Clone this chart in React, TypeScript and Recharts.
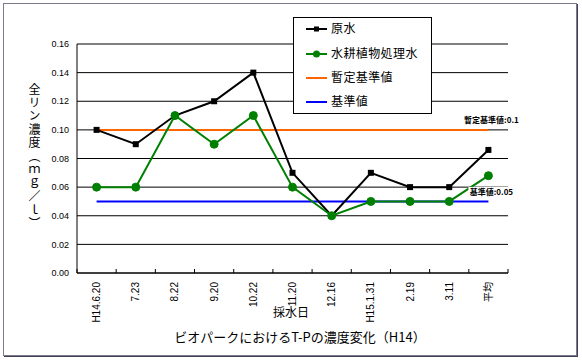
import React from 'react';
import { LineChart, Line, XAxis, YAxis, CartesianGrid, ReferenceLine, Legend, LabelList } from 'recharts';

const categories = ['H14.6.20', '7.23', '8.22', '9.20', '10.22', '11.20', '12.16', 'H15.1.31', '2.19', '3.11', '平均'];
const rawWater = [0.10, 0.09, 0.11, 0.12, 0.14, 0.07, 0.04, 0.07, 0.06, 0.06, 0.086];
const treatedWater = [0.06, 0.06, 0.11, 0.09, 0.11, 0.06, 0.04, 0.05, 0.05, 0.05, 0.068];
const provisionalStandard = [0.1, 0.1, 0.1, 0.1, 0.1, 0.1, 0.1, 0.1, 0.1, 0.1, 0.1];
const standardValue = [0.05, 0.05, 0.05, 0.05, 0.05, 0.05, 0.05, 0.05, 0.05, 0.05, 0.05];
const yTicks = [0, 0.02, 0.04, 0.06, 0.08, 0.1, 0.12, 0.14, 0.16];
const seriesNames = ['原水', '水耕植物処理水', '暫定基準値', '基準値'];
const provLabel = '暫定基準値:0.1';
const stdLabel = '基準値:0.05';
const chartTitle = 'ビオパークにおけるT-Pの濃度変化（H14）';
const xTitle = '採水日';
const yTitle = '全リン濃度（ｍｇ／ｌ）';

const data = categories.map((c, i) => ({
  cat: c,
  raw: rawWater[i],
  treated: treatedWater[i],
  prov: provisionalStandard[i],
  std: standardValue[i],
}));

const FONT = '"Liberation Sans", "Noto Sans CJK JP", sans-serif';
const JFONT = '"Noto Sans CJK JP", "Liberation Sans", sans-serif';
const COLORS = { raw: '#000000', treated: '#008000', prov: '#ff6600', std: '#0000ff' };

const XTick = (props: any) => {
  const { x, y, payload, index } = props;
  const half = payload && payload.offset ? payload.offset : 19.6;
  const ty = y + 9;
  return (
    <g>
      <line x1={x + half} x2={x + half} y1={y - 4} y2={y} stroke="#000" />
      {index === 0 && <line x1={x - half} x2={x - half} y1={y - 4} y2={y} stroke="#000" />}
      <text
        x={x}
        y={ty}
        transform={`rotate(-90, ${x}, ${ty})`}
        textAnchor="end"
        dy="0.35em"
        fontSize={10}
        fontFamily={FONT}
        fill="#000"
      >
        {payload.value}
      </text>
    </g>
  );
};

const SquareDot = (props: any) => {
  const { cx, cy } = props;
  if (cx == null || cy == null) return null;
  return <rect x={cx - 3} y={cy - 3} width={6} height={6} fill="#000" />;
};

const CircleDot = (props: any) => {
  const { cx, cy } = props;
  if (cx == null || cy == null) return null;
  return <circle cx={cx} cy={cy} r={4} fill={COLORS.treated} stroke={COLORS.treated} />;
};

const makeEndLabel = (text: string, dy: number, w: number) => (props: any) => {
  const { x, y, index } = props;
  if (index !== categories.length - 1) return null;
  const cx = x + 3;
  const cy = y + dy;
  return (
    <g>
      <rect x={cx - w / 2} y={cy - 5} width={w} height={10} fill="#fff" />
      <text x={cx} y={cy} dy="0.35em" textAnchor="middle" fontSize={8} fontWeight="bold" fontFamily={JFONT} fill="#000">
        {text}
      </text>
    </g>
  );
};

const LegendBox = () => {
  const rows = [
    { name: seriesNames[0], color: COLORS.raw, marker: 'square', y: 12 },
    { name: seriesNames[1], color: COLORS.treated, marker: 'circle', y: 37 },
    { name: seriesNames[2], color: COLORS.prov, marker: 'none', y: 61 },
    { name: seriesNames[3], color: COLORS.std, marker: 'none', y: 85 },
  ];
  return (
    <svg width={139} height={97} style={{ display: 'block' }}>
      <rect x={0.5} y={0.5} width={138} height={96} fill="#fff" stroke="#000" />
      {rows.map((r) => (
        <g key={r.name}>
          <line x1={13} x2={34} y1={r.y} y2={r.y} stroke={r.color} strokeWidth={2} />
          {r.marker === 'square' && <rect x={21} y={r.y - 2.5} width={5} height={5} fill={r.color} />}
          {r.marker === 'circle' && <circle cx={23.5} cy={r.y} r={3.5} fill={r.color} />}
          <text x={38} y={r.y} dy="0.36em" fontSize={12} fontFamily={JFONT} fill="#000" letterSpacing={0.4}>
            {r.name}
          </text>
        </g>
      ))}
    </svg>
  );
};

export default function App() {
  return (
    <div style={{ position: 'absolute', left: 0, top: 0, width: 582, height: 360, background: '#fff' }}>
      <div
        style={{
          position: 'absolute',
          left: 3,
          top: 3,
          width: 572,
          height: 351,
          border: '1px solid #7a7a90',
          boxShadow: '1px 1px 0 #404050',
        }}
      />
      <div style={{ position: 'absolute', left: 0, top: 0 }}>
        <LineChart width={582} height={360} data={data} margin={{ top: 44, right: 74, left: 0, bottom: 27 }}>
          <CartesianGrid yAxisId="l" vertical={false} stroke="#000" strokeOpacity={1} />
          <XAxis
            dataKey="cat"
            scale="band"
            height={60}
            interval={0}
            tick={<XTick />}
            tickLine={false}
            tickSize={0}
            tickMargin={0}
            axisLine={{ stroke: '#000' }}
          />
          <YAxis
            yAxisId="l"
            width={77}
            domain={[0, 0.16]}
            ticks={yTicks}
            interval={0}
            tickLine={false}
            axisLine={{ stroke: '#000' }}
            tickFormatter={(v: number) => v.toFixed(2)}
            tick={{ fontSize: 9, fill: '#000', fontFamily: FONT }}
          />
          <YAxis yAxisId="r" orientation="right" width={0} domain={[0, 0.16]} tick={false} tickLine={false} axisLine={{ stroke: '#808080' }} />
          <ReferenceLine yAxisId="l" y={0.16} stroke="#808080" />
          <Line yAxisId="l" dataKey="prov" name={seriesNames[2]} stroke={COLORS.prov} strokeWidth={2} dot={false} isAnimationActive={false}>
            <LabelList dataKey="prov" content={makeEndLabel(provLabel, -10, 58)} />
          </Line>
          <Line yAxisId="l" dataKey="std" name={seriesNames[3]} stroke={COLORS.std} strokeWidth={2} dot={false} isAnimationActive={false}>
            <LabelList dataKey="std" content={makeEndLabel(stdLabel, -9.5, 46)} />
          </Line>
          <Line yAxisId="l" dataKey="raw" name={seriesNames[0]} stroke={COLORS.raw} strokeWidth={2} dot={<SquareDot />} isAnimationActive={false} />
          <Line yAxisId="l" dataKey="treated" name={seriesNames[1]} stroke={COLORS.treated} strokeWidth={2} dot={<CircleDot />} isAnimationActive={false} />
          <Legend
            layout="vertical"
            align="center"
            verticalAlign="middle"
            content={<LegendBox />}
            wrapperStyle={{ position: 'absolute', left: 293, top: 17, width: 139, height: 97 }}
          />
        </LineChart>
      </div>
      <div
        style={{
          position: 'absolute',
          left: 27,
          top: 83,
          writingMode: 'vertical-rl',
          fontSize: 12,
          lineHeight: '14px',
          letterSpacing: '1.4px',
          fontFamily: JFONT,
          color: '#000',
          whiteSpace: 'nowrap',
        }}
      >
        {yTitle}
      </div>
      <svg width={582} height={360} style={{ position: 'absolute', left: 0, top: 0, pointerEvents: 'none' }}>
        <text x={291} y={313} dy="0.35em" textAnchor="middle" fontSize={12} fontFamily={JFONT} fill="#000">
          {xTitle}
        </text>
        <text x={300} y={337} dy="0.35em" textAnchor="middle" fontSize={13} fontFamily={JFONT} fill="#000">
          {chartTitle}
        </text>
      </svg>
    </div>
  );
}
